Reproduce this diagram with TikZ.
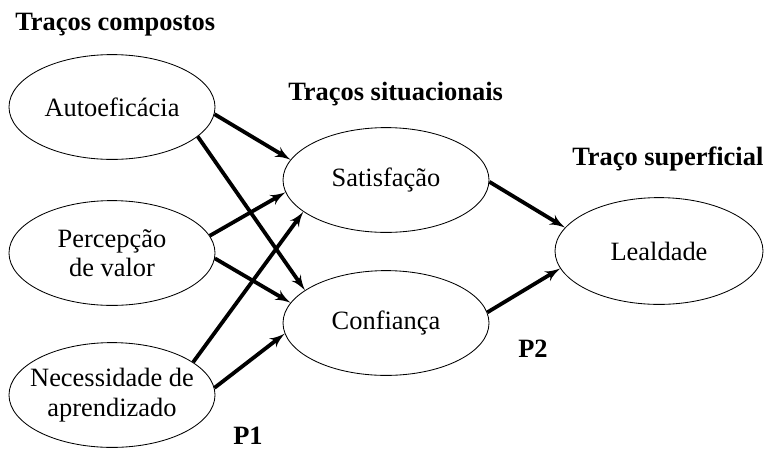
\documentclass[tikz,border=0pt]{standalone}
\usepackage{fontspec}
\setmainfont{Liberation Serif}
\usetikzlibrary{shapes,arrows}

\begin{document}
\begin{tikzpicture}[>=latex',
    font=\fontsize{18.8}{21}\selectfont,
    traco/.style={draw, ellipse, line width=0.6pt, inner sep=0pt, inner xsep=-0.35cm, minimum width=5.15cm, minimum height=2.62cm, align=center},
    titulo/.style={anchor=base west, inner sep=0pt, font=\fontsize{18.8}{21}\selectfont\bfseries},
    seta/.style={->, line width=2.7pt}]

      \useasboundingbox (0,0) rectangle (19.175,-11.25);

      % Titulos
      \node [titulo] (titulo_compostos) at (0.375,-0.75) {Traços compostos};
      \node [titulo] (titulo_situacionais) at (7.2,-2.5) {Traços situacionais};
      \node [titulo] (titulo_superficial) at (14.3,-4.125) {Traço superficial};
      \node [titulo] (p1) at (5.825,-11.1) {P1};
      \node [titulo] (p2) at (12.95,-8.925) {P2};

      % Tracos compostos
      \node [traco] (autoeficacia) at (2.8,-2.675) {Autoeficácia};
      \node [traco] (percepcao) at (2.8,-6.325) {Percepção\\de valor};
      \node [traco] (necessidade) at (2.8,-9.875) {Necessidade de\\aprendizado};

      % Tracos situacionais
      \node [traco] (satisfacao) at (9.65,-4.5) {Satisfação};
      \node [traco] (confianca) at (9.65,-8.075) {Confiança};

      % Traco superficial
      \node [traco, minimum width=5.2cm, minimum height=2.67cm] (lealdade) at (16.475,-6.275) {Lealdade};

      % Linhas de ligacao
      \draw [seta] (autoeficacia.-4) -- (satisfacao.168);
      \draw [seta] (autoeficacia.-19) -- (confianca.158);
      \draw [seta] (percepcao.10) -- (satisfacao.-173);
      \draw [seta] (percepcao.-3) -- (confianca.168);
      \draw [seta] (necessidade.22) -- (satisfacao.-159);
      \draw [seta] (necessidade.4) -- (confianca.-174);
      \draw [seta] (satisfacao.-1) -- (lealdade.166);
      \draw [seta] (confianca.6) -- (lealdade.-170);

    \end{tikzpicture}
\end{document}
